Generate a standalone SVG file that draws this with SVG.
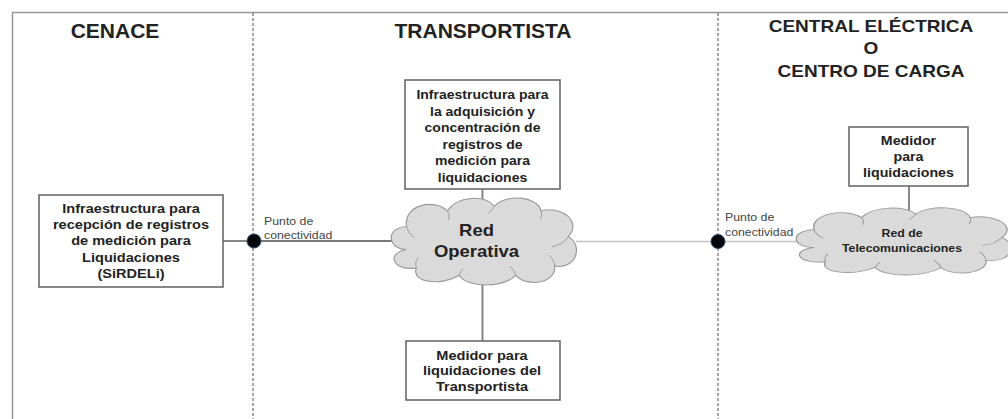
<svg xmlns="http://www.w3.org/2000/svg" width="1008" height="419" viewBox="0 0 1008 419">
<style>
.frame{fill:none;stroke:#999;stroke-width:1.5}
.divider{stroke:#777;stroke-width:1.3;stroke-dasharray:3 2}
.title{font-family:"Liberation Sans",Arial,sans-serif;font-weight:bold;fill:#222;text-anchor:middle}
.box{fill:#fff;stroke:#6a6a6a;stroke-width:1.6}
.bt{font-family:"Liberation Sans",Arial,sans-serif;font-weight:bold;fill:#222;text-anchor:middle}
.lbl{font-family:"Liberation Sans",Arial,sans-serif;font-size:11px;fill:#444}
.cloud{fill:#dadada;stroke:#9a9a9a;stroke-width:1.2}
.crease{fill:none;stroke:#9a9a9a;stroke-width:1}
.conn{fill:none;stroke:#7a7a7a;stroke-width:1.8}
.connl{fill:none;stroke:#c4c4c4;stroke-width:1.6}
.dot{fill:#05060c;stroke:#2c4a68;stroke-width:1}
</style>
<defs>
<path id="cloudShape" d="M22,62 C2,62 0,38 22,37 C18,14 50,6 64,20 C74,4 102,2 112,15 C124,1 156,4 160,20 C182,14 202,32 188,48 C204,58 196,84 174,80 C176,98 146,104 134,90 C120,104 84,104 76,90 C58,102 26,98 32,82 C8,86 0,66 22,62 Z"/>
<path id="cloudCreases" d="M22,37 C23,42 26,46 30,49 M64,20 C66,24 66,27 65,30 M112,15 C110,18 108,21 106,23 M160,20 C161,23 161,26 159,29 M188,48 C184,54 178,58 171,59 M174,80 C174,76 172,72 168,68 M134,90 C133,86 131,83 128,80 M76,90 C77,87 78,85 80,83 M32,82 C31,78 31,75 34,71"/>
</defs>

<g id="frame">
<path class="frame" d="M12.5,419 L12.5,12.5 L1010,12.5"/>
<line class="divider" x1="253" y1="13" x2="253" y2="419"/>
<line class="divider" x1="718" y1="13" x2="718" y2="419"/>
</g>

<g id="titles">
<text class="title" x="115" y="38" font-size="21">CENACE</text>
<text class="title" x="483" y="38" font-size="21">TRANSPORTISTA</text>
<text class="title" font-size="17" transform="translate(871,0) scale(1.12,1)"><tspan x="0" y="32">CENTRAL ELÉCTRICA</tspan><tspan x="0" y="54">O</tspan><tspan x="0" y="77">CENTRO DE CARGA</tspan></text>
</g>

<g id="connectors">
<line class="conn" x1="223" y1="241" x2="254" y2="241"/>
<line class="conn" x1="254" y1="241" x2="393" y2="241"/>
<line class="connl" x1="576" y1="241.5" x2="718" y2="241.5"/>
<line class="connl" x1="718" y1="241.5" x2="798" y2="241.5"/>
<line class="conn" x1="482.5" y1="189" x2="482.5" y2="199"/>
<line class="conn" x1="482.5" y1="284" x2="482.5" y2="341"/>
<line class="conn" x1="909" y1="186" x2="909" y2="212"/>
</g>

<g id="cenace-box">
<rect class="box" x="39" y="195" width="184" height="92"/>
<text class="bt" font-size="13" transform="translate(131,0) scale(1.12,1)"><tspan x="0" y="213">Infraestructura para</tspan><tspan x="0" y="229.2">recepción de registros</tspan><tspan x="0" y="245.4">de medición para</tspan><tspan x="0" y="261.6">Liquidaciones</tspan><tspan x="0" y="277.8">(SiRDELi)</tspan></text>
</g>

<g id="adquisicion-box">
<rect class="box" x="405" y="80" width="155" height="109"/>
<text class="bt" font-size="12.5" transform="translate(482.5,0) scale(1.12,1)"><tspan x="0" y="99.3">Infraestructura para</tspan><tspan x="0" y="115.8">la adquisición y</tspan><tspan x="0" y="132.3">concentración de</tspan><tspan x="0" y="148.8">registros de</tspan><tspan x="0" y="165.3">medición para</tspan><tspan x="0" y="181.8">liquidaciones</tspan></text>
</g>

<g id="red-operativa">
<g transform="translate(385.2,192.4) scale(0.974,0.921)">
<use href="#cloudShape" class="cloud" vector-effect="non-scaling-stroke"/>
<use href="#cloudCreases" class="crease" vector-effect="non-scaling-stroke"/>
</g>
<text class="bt" font-size="16.5" transform="translate(476.5,0) scale(1.12,1)"><tspan x="0" y="236.5">Red</tspan><tspan x="0" y="257.5">Operativa</tspan></text>
</g>

<g id="medidor-transportista">
<rect class="box" x="406" y="341" width="154" height="59"/>
<text class="bt" font-size="13" transform="translate(482,0) scale(1.12,1)"><tspan x="0" y="360">Medidor para</tspan><tspan x="0" y="375.5">liquidaciones del</tspan><tspan x="0" y="391">Transportista</tspan></text>
</g>

<g id="punto1">
<circle class="dot" cx="254" cy="241" r="7"/>
<text class="lbl" transform="translate(264,0) scale(1.12,1)"><tspan x="0" y="225">Punto de</tspan><tspan x="0" y="239.5">conectividad</tspan></text>
</g>

<g id="punto2">
<circle class="dot" cx="718" cy="241.5" r="7"/>
<text class="lbl" transform="translate(725,0) scale(1.12,1)"><tspan x="0" y="221.5">Punto de</tspan><tspan x="0" y="236">conectividad</tspan></text>
</g>

<g id="medidor-central">
<rect class="box" x="849" y="127" width="119" height="59"/>
<text class="bt" font-size="12.7" transform="translate(908.5,0) scale(1.12,1)"><tspan x="0" y="145">Medidor</tspan><tspan x="0" y="161">para</tspan><tspan x="0" y="177">liquidaciones</tspan></text>
</g>

<g id="red-telecom">
<g transform="translate(789.2,203.4) scale(1.131,0.712)">
<use href="#cloudShape" class="cloud" vector-effect="non-scaling-stroke"/>
<use href="#cloudCreases" class="crease" vector-effect="non-scaling-stroke"/>
</g>
<text class="bt" font-size="11" transform="translate(902,0) scale(1.12,1)"><tspan x="0" y="237">Red de</tspan><tspan x="0" y="252.5">Telecomunicaciones</tspan></text>
</g>
</svg>
